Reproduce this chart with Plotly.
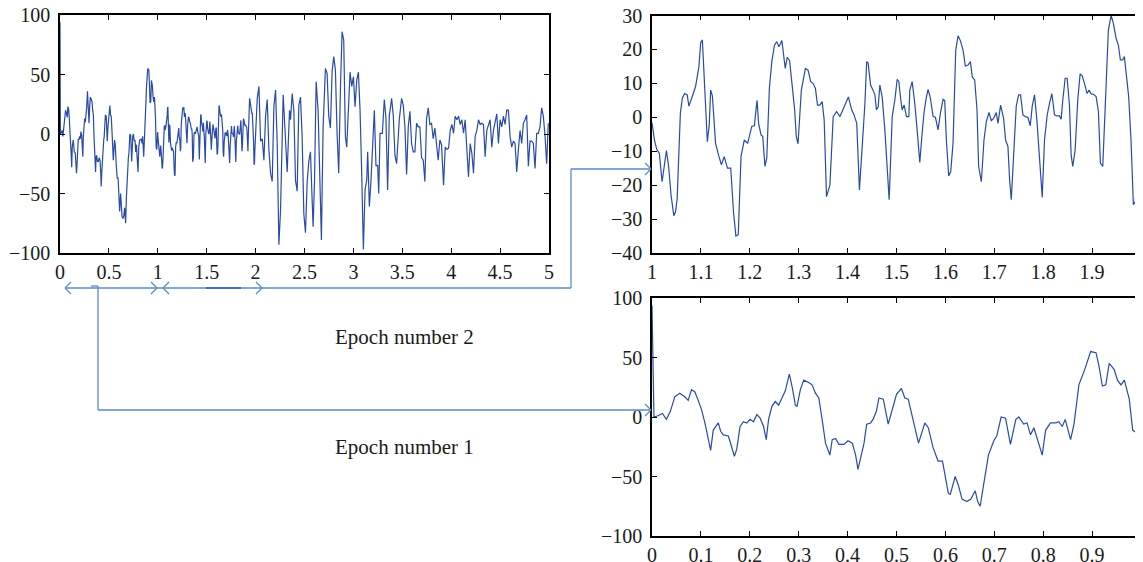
import plotly.graph_objects as go

# ---------------- data ----------------
# Epoch 1 (0-1 s)
t1 = [0.0, 0.004, 0.0123, 0.0212, 0.0295, 0.0377, 0.0466, 0.0568, 0.0671, 0.074, 0.0808, 0.0877,
      0.0945, 0.1014, 0.1082, 0.113, 0.1199, 0.1253, 0.1356, 0.1404, 0.1459, 0.1562,
      0.163, 0.1685, 0.1733, 0.1801, 0.187, 0.1938, 0.2007, 0.2075, 0.2144, 0.2212,
      0.2281, 0.2336, 0.2384, 0.2452, 0.2521, 0.2589, 0.2658, 0.2726, 0.2808, 0.2863,
      0.2932, 0.2966, 0.3034, 0.3103, 0.3205, 0.3274, 0.3342, 0.3411, 0.3479, 0.3548,
      0.3637, 0.3685, 0.3753, 0.3822, 0.3925, 0.4007, 0.4096, 0.4164, 0.4212, 0.4267,
      0.4336, 0.439, 0.447, 0.452, 0.459, 0.464, 0.473, 0.483, 0.49, 0.5,
      0.51, 0.517, 0.524, 0.534, 0.545, 0.558, 0.565, 0.575, 0.585, 0.594,
      0.606, 0.61, 0.62, 0.627, 0.634, 0.644, 0.652, 0.661, 0.666, 0.671,
      0.679, 0.688, 0.699, 0.705, 0.714, 0.723, 0.733, 0.744, 0.75, 0.76,
      0.767, 0.774, 0.781, 0.788, 0.798, 0.805, 0.815, 0.825, 0.832, 0.839,
      0.845, 0.856, 0.863, 0.873, 0.885, 0.897, 0.908, 0.914, 0.921, 0.928,
      0.935, 0.945, 0.952, 0.959, 0.966, 0.976, 0.983, 0.99, 0.997, 1.0]
v1 = [94, 0, 1, 3, -2, 5, 17, 20, 17, 14, 23, 21,
      14, 6, -5, -15, -28, -11, -5, -12, -15, -16,
      -25, -33, -27, -8, -4, -5, -2, -4, 2, -1,
      -8, -19, -2, 9, 13, 10, 16, 22, 36, 26,
      10, 9, 23, 31, 29, 27, 20, 16, -2, -22,
      -32, -19, -18, -23, -23, -20, -22, -32, -44, -33,
      -22, -6, -5, -2, 5, 16, 15, -6, 5, 19,
      24, 16, 15, -2, -22, -5, -9, -26, -37, -37,
      -64, -65, -50, -58, -69, -71, -69, -62, -71, -75,
      -53, -32, -20, -16, 0, -1, -23, -2, 0, -6,
      -5, -15, -9, -19, -32, -11, -5, -5, -4, -8,
      -2, -19, -6, 27, 40, 55, 54, 43, 26, 27,
      45, 40, 31, 27, 31, 15, -11, -13, 1, 1]

# Epoch 2 (1-2 s)
t2 = [1.0, 1.005, 1.01, 1.015, 1.0206, 1.025, 1.0295, 1.034, 1.039, 1.0446,
      1.048, 1.0515, 1.055, 1.058, 1.062, 1.0666, 1.072, 1.0755, 1.082, 1.089,
      1.096, 1.0995, 1.103, 1.1064, 1.1105, 1.1132, 1.117, 1.12, 1.1235, 1.13,
      1.137, 1.142, 1.1476, 1.1544, 1.161, 1.1667, 1.1716, 1.1764, 1.182, 1.1887,
      1.1956, 1.204, 1.2093, 1.2148, 1.218, 1.223, 1.2265, 1.231, 1.2347, 1.24,
      1.245, 1.2505, 1.2553, 1.2594, 1.2656, 1.2725, 1.2766, 1.2814, 1.2862, 1.2917,
      1.2951, 1.2986, 1.3054, 1.3137, 1.3191, 1.3246, 1.3294, 1.3342, 1.3384, 1.3432,
      1.348, 1.3521, 1.3569, 1.3638, 1.3706, 1.3775, 1.3844, 1.3947, 1.4016, 1.4084,
      1.4132, 1.4187, 1.4242, 1.4354, 1.439, 1.442, 1.447, 1.452, 1.4558, 1.459,
      1.4626, 1.466, 1.4707, 1.4762, 1.4796, 1.485, 1.4912, 1.4966, 1.5014, 1.5048,
      1.5088, 1.5116, 1.5156, 1.5204, 1.5252, 1.5272, 1.532, 1.5374, 1.5422, 1.5476,
      1.5524, 1.5565, 1.5612, 1.5646, 1.5694, 1.5748, 1.5796, 1.585, 1.5898, 1.5952,
      1.5986, 1.602, 1.6068, 1.6109, 1.6156, 1.6211, 1.6259, 1.6306, 1.6361, 1.6408,
      1.6463, 1.651, 1.6551, 1.6599, 1.6646, 1.668, 1.6735, 1.6789, 1.6837, 1.6891,
      1.6939, 1.6986, 1.7041, 1.7075, 1.7129, 1.719, 1.7231, 1.7279, 1.7313, 1.7347,
      1.7401, 1.7449, 1.7497, 1.7537, 1.7585, 1.7633, 1.7687, 1.7735, 1.7776, 1.7823,
      1.7871, 1.7925, 1.798, 1.8027, 1.8082, 1.8129, 1.8177, 1.8231, 1.8279, 1.8333,
      1.8367, 1.8401, 1.8449, 1.849, 1.8537, 1.8571, 1.8605, 1.8653, 1.8707, 1.8755,
      1.8796, 1.8844, 1.8898, 1.8939, 1.898, 1.9027, 1.9082, 1.9129, 1.917, 1.9218,
      1.9252, 1.9286, 1.9333, 1.9388, 1.9435, 1.949, 1.9537, 1.9578, 1.9626, 1.966,
      1.9694, 1.9748, 1.9796, 1.9844, 1.9884, 1.9932, 2.0]
v2 = [-1.6, -6.7, -9.6, -10.6, -19, -14.5, -9.8, -14.5, -23, -29,
      -28, -24, -9.6, 1.2, 5.6, 7, 6.6, 3.3, 6, 9,
      15, 22, 22.8, 13, -2.7, -7.2, -2.3, 8, 6.3, -7.7,
      -11.6, -14, -11.6, -15, -15, -28, -35, -34.6, -11.6, -6.7,
      -7.7, -2.7, -2.5, 5, -1.8, -5.2, -5.7, -14.5, -12, 8.5,
      16.4, 21.3, 22.3, 20.8, 22.6, 14.4, 17.7, 16.7, 10, 2.2,
      -5.7, -7.8, 8, 14.4, 13.9, 10.5, 10, 8.5, 3.6, 3.6,
      4.6, -0.8, -23.4, -20, 0.2, 1.7, 0.2, 3.6, 6, 2.2,
      0.7, -1.8, -21.4, 4, 16.4, 16, 9.5, 8, 6.6, 2.2,
      3.1, 9.5, 6, -3.7, -11.6, -24.3, 0.2, 5.1, 11.2, 10.5,
      5.1, 2.2, 3.6, 0.2, 0.2, 8, 10.5, 4.1, -3.7, -13.3,
      -4.7, 1.7, 6, 8.2, 5.6, 0.2, 0, -3.7, 1.2, 5.3,
      4.9, -6.7, -17.3, -16, -7.7, 19.8, 24, 22.6, 19.8, 15.1,
      15.4, 16.4, 11.8, 11, 2.2, -14.5, -19, -6.7, -1.3, 1.4,
      -1, -0.3, 1.4, -1.8, 3.6, -0.3, -6.7, -8.6, -18.4, -24.3,
      -9.6, 3.3, 6.6, 6.6, 0.7, 0.2, 0, -2.5, 3.3, 6.6,
      -0.8, -12.6, -23.6, -6.7, 0.7, 4.1, 7, 0.7, 0.4, 0.4,
      -0.6, 5.1, 11.5, 11.5, 3.6, -11.1, -14.5, -9.6, 5.1, 12.8,
      12.2, 10, 7, 8, 6.9, 6.8, 6.1, 1.7, -13.5, -14.5,
      -2.7, 13, 25.7, 30, 27.7, 23.3, 21.3, 16.9, 16.9, 17.9,
      13.4, 6.1, -6.7, -25.8, -24.8, -12.6, 2.2]

# Rest of the recording (2-5 s)
t3 = [2.017, 2.034, 2.051, 2.068, 2.085, 2.102, 2.119, 2.136, 2.153, 2.17,
      2.187, 2.204, 2.221, 2.238, 2.255, 2.282, 2.306, 2.323, 2.347, 2.357,
      2.374, 2.391, 2.408, 2.425, 2.442, 2.459, 2.476, 2.493, 2.51, 2.527,
      2.544, 2.561, 2.571, 2.588, 2.602, 2.619, 2.639, 2.663, 2.673, 2.69,
      2.714, 2.731, 2.748, 2.765, 2.782, 2.799, 2.816, 2.833, 2.85, 2.867,
      2.884, 2.901,
      2.918, 2.932, 2.949, 2.966, 2.983, 3.0, 3.017, 3.034, 3.051, 3.068,
      3.085, 3.102, 3.119, 3.136, 3.146, 3.163, 3.18, 3.197, 3.214, 3.231,
      3.248, 3.259, 3.272, 3.296, 3.316, 3.333, 3.35, 3.367, 3.391, 3.408,
      3.425, 3.442, 3.452, 3.469, 3.493, 3.51, 3.527, 3.544, 3.561, 3.578,
      3.595, 3.612, 3.629, 3.646, 3.663, 3.68, 3.697, 3.714, 3.731, 3.748,
      3.765, 3.782, 3.799, 3.816, 3.833, 3.85, 3.867, 3.884, 3.901,
      3.922, 3.939, 3.956, 3.973, 3.99, 4.007, 4.024, 4.041, 4.058, 4.075,
      4.092, 4.109, 4.126, 4.143, 4.16, 4.177, 4.194, 4.211, 4.228, 4.245,
      4.262, 4.279, 4.296, 4.313, 4.33, 4.347, 4.364, 4.381, 4.398, 4.415,
      4.432, 4.449, 4.466, 4.483, 4.5, 4.517, 4.534, 4.551, 4.568, 4.585,
      4.602, 4.619, 4.636, 4.653, 4.67, 4.687, 4.704, 4.721, 4.738, 4.755,
      4.772, 4.789, 4.806, 4.823, 4.84, 4.857, 4.874, 4.891, 4.908, 4.925,
      4.942, 4.959, 4.976, 4.993]
v3 = [30, 40, -6, -4, -22, 15, 29, -13, -33, -40,
      23, 37, -8, -93, -64, 33, -9, -32, 20, 12,
      34, 20, -39, -48, 24, 31, -2, -67, -83, -41,
      -23, -15, -39, -78, -41, 44, 20, -64, -89, 5,
      55, 51, 15, 5, 52, 65, 54, 0.6, -33, 37,
      86, 79,
      -2, -11, 20, 52, 40, 48, 23, 45, 52, 20,
      -33, -97, -47, -39, -15, -61, -39, -2, 20, -27,
      -26, -50, 0.5, 0.5, 29, 13, -47, 15, 30, 15,
      -18, -25, -11, 12, 30, 24, 6, -34, 6, 19,
      -8, -15, -15, 9, 6, 6, -20, -22, -40, 13,
      22, 8, 9, -4, 5, -8, -22, -5, -9,
      -43, -11, -13, -12, 3, 8, 0.6, 15, 12, 15,
      8, 12, 0.6, 12, -13, -36, -8, -16, -33, -2,
      3, 12, 8, 9, 8, -19, 3, 8, 12, -11,
      3, 10, 17, -8, 12, 6, 15, 8, 20, 20,
      -2, -11, -6, -8, -32, -13, 3, -8, 9, 12,
      16, -27, -6, -6, -8, -29, 0.6, 0.6, 6, 22,
      15, -1, -25, 9]

assert len(t1) == len(v1) and len(t2) == len(v2) and len(t3) == len(v3)

full_t = t1 + t2 + t3
full_v = v1 + v2 + v3

# tick labels
full_xticks = [0, 0.5, 1, 1.5, 2, 2.5, 3, 3.5, 4, 4.5, 5]
full_xlabels = ["0", "0.5", "1", "1.5", "2", "2.5", "3", "3.5", "4", "4.5", "5"]
amp_yticks = [-100, -50, 0, 50, 100]
amp_ylabels = ["\u2212100", "\u221250", "0", "50", "100"]
ep2_xticks = [1, 1.1, 1.2, 1.3, 1.4, 1.5, 1.6, 1.7, 1.8, 1.9, 2]
ep2_xlabels = ["1", "1.1", "1.2", "1.3", "1.4", "1.5", "1.6", "1.7", "1.8", "1.9", "2"]
ep2_yticks = [-40, -30, -20, -10, 0, 10, 20, 30]
ep2_ylabels = ["\u221240", "\u221230", "\u221220", "\u221210", "0", "10", "20", "30"]
ep1_xticks = [0, 0.1, 0.2, 0.3, 0.4, 0.5, 0.6, 0.7, 0.8, 0.9, 1]
ep1_xlabels = ["0", "0.1", "0.2", "0.3", "0.4", "0.5", "0.6", "0.7", "0.8", "0.9", "1"]
labels = ["Epoch number 2", "Epoch number 1"]

# ---------------- layout helpers ----------------
W, H = 1143, 562
OFF = 8  # default page body margin around the figure
def PX(x):
    return (x - OFF) / W
def PY(y):
    return 1 - (y - OFF) / H

LINE = "#2a4aa8"
ARROW = "#5d8ac8"
FONT = dict(family="Liberation Serif, Times New Roman, serif", size=20, color="#1a1a1a")

fig = go.Figure()
fig.add_trace(go.Scatter(x=full_t, y=full_v, mode="lines", line=dict(color=LINE, width=1.2),
                         xaxis="x", yaxis="y", hoverinfo="skip"))
fig.add_trace(go.Scatter(x=t2, y=v2, mode="lines", line=dict(color=LINE, width=1.2),
                         xaxis="x2", yaxis="y2", hoverinfo="skip"))
fig.add_trace(go.Scatter(x=t1, y=v1, mode="lines", line=dict(color=LINE, width=1.2),
                         xaxis="x3", yaxis="y3", hoverinfo="skip"))

def ax(rng, tv, tt, dom, anchor, standoff=0):
    d = dict(range=rng, tickvals=tv, ticktext=tt, domain=dom, anchor=anchor,
             ticks="inside", ticklen=5, tickwidth=1, tickcolor="black",
             showline=True, linecolor="black", linewidth=1.5, mirror="ticks",
             showgrid=False, zeroline=False, tickfont=FONT, fixedrange=True,
             automargin=False, ticklabeloverflow="allow")
    if standoff:
        d["ticklabelstandoff"] = standoff
    return d

fig.update_layout(
    width=W, height=H, margin=dict(l=0, r=0, t=0, b=0, pad=0),
    paper_bgcolor="white", plot_bgcolor="white", showlegend=False,
    xaxis=ax([0, 5], full_xticks, full_xlabels, [PX(60), PX(549)], "y"),
    yaxis=ax([-100, 100], amp_yticks, amp_ylabels, [PY(253), PY(15)], "x", 4),
    xaxis2=ax([1, 2], ep2_xticks, ep2_xlabels, [PX(652), PX(1141)], "y2"),
    yaxis2=ax([-40, 30], ep2_yticks, ep2_ylabels, [PY(253), PY(15.5)], "x2", 4),
    xaxis3=ax([0, 1], ep1_xticks, ep1_xlabels, [PX(652), PX(1141)], "y3"),
    yaxis3=ax([-100, 100], amp_yticks, amp_ylabels, [PY(536), PY(298)], "x3", 4),
)

shapes = []
def seg(x0, y0, x1, y1, color=ARROW, width=1.3):
    shapes.append(dict(type="line", xref="paper", yref="paper",
                       x0=PX(x0), y0=PY(y0), x1=PX(x1), y1=PY(y1),
                       line=dict(color=color, width=width)))
def chevron(tx, ty, direction):
    back = 6 if direction == "left" else -6
    seg(tx + back, ty - 6, tx, ty)
    seg(tx, ty, tx + back, ty + 6)

# epoch bracket and connector to epoch 2
seg(65, 288, 571, 288)
seg(206, 288, 241, 288, color="#3f6fb8", width=2)
seg(571, 288, 571, 169)
seg(571, 169, 651, 169)
chevron(65, 288, "left")
chevron(157, 288, "right")
chevron(163, 288, "left")
chevron(262, 288, "right")
chevron(651, 169, "right")
# connector to epoch 1
seg(91, 286, 98, 286)
seg(98, 286, 98, 410)
seg(98, 410, 651, 410)
chevron(651, 410, "right")

fig.update_layout(shapes=shapes)

for txt, ypix in zip(labels, [337, 447]):
    fig.add_annotation(x=PX(404), y=PY(ypix), xref="paper", yref="paper", text=txt,
                       xanchor="center", yanchor="middle", showarrow=False,
                       font=dict(family=FONT["family"], size=21, color="#1a1a1a"))

fig.write_html("out.html")
